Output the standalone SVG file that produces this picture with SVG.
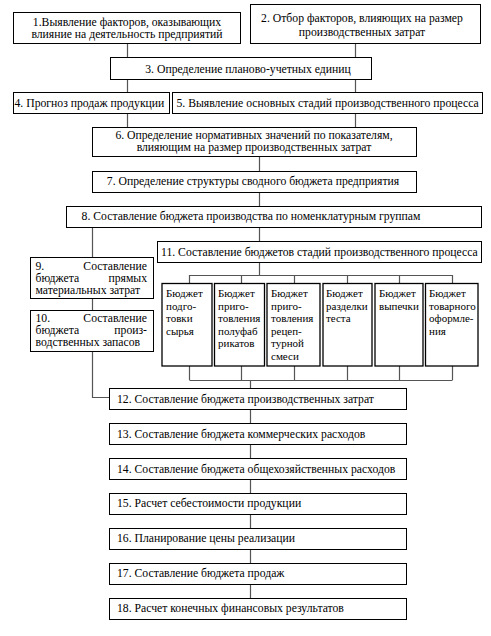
<svg xmlns="http://www.w3.org/2000/svg" width="491" height="636" viewBox="0 0 491 636">
<style>
.b{fill:#fff;stroke:#000;stroke-width:1}
.s{fill:#fff;stroke:#000;stroke-width:1.3}
text{font-family:'Liberation Serif','DejaVu Serif',serif;fill:#000}
.t{font-size:11.7px}
.c{text-anchor:middle}
.e{text-anchor:end}
.st{font-size:11px}
#connectors path{fill:none;stroke:#555;stroke-width:1.2}
</style>
<rect width="491" height="636" fill="#fff"/>
<g id="connectors">
<path d="M127.5,44V57M127.5,80V92M127.5,113V127"/>
<path d="M355.5,44V57M355.5,80V92M355.5,113V127"/>
<path d="M259.5,156V171M259.5,192V206M259.5,227V241M259.5,262V275"/>
<path d="M92.5,227V397.5H109"/>
<path d="M189.5,275.5H452.5M189.5,275V283M241.5,275V283M294.5,275V283M347.5,275V283M399.5,275V283M452.5,275V283"/>
<path d="M189.5,380.5H452.5M189.5,366V380M241.5,366V380M294.5,366V380M347.5,366V380M399.5,366V380M452.5,366V380"/>
<path d="M250.5,380V388M250.5,410V423M250.5,445V458M250.5,480V493M250.5,515V528M250.5,550V563M250.5,585V598"/>
</g>
<g id="n1"><rect class="b" x="13.5" y="12.5" width="227" height="31"/>
<text class="t c" x="127" y="26">1.Выявление факторов, оказывающих</text>
<text class="t c" x="127" y="38">влияние на деятельность предприятий</text></g>
<g id="n2"><rect class="b" x="250.5" y="4.5" width="230" height="39"/>
<text class="t c" x="362" y="22">2. Отбор факторов, влияющих на размер</text>
<text class="t c" x="362" y="36">производственных затрат</text></g>
<g id="n3"><rect class="b" x="110.5" y="57.5" width="261" height="22"/>
<text class="t c" x="248" y="73">3. Определение планово-учетных единиц</text></g>
<g id="n4"><rect class="b" x="13.5" y="92.5" width="156" height="21"/>
<text class="t" x="14.5" y="107">4. Прогноз продаж продукции</text></g>
<g id="n5"><rect class="b" x="172.5" y="92.5" width="310" height="21"/>
<text class="t" x="176.5" y="107">5. Выявление основных стадий производственного процесса</text></g>
<g id="n6"><rect class="b" x="92.5" y="127.5" width="324" height="29"/>
<text class="t c" x="254" y="138.5">6. Определение нормативных значений по показателям,</text>
<text class="t c" x="254" y="150.5">влияющим на размер производственных затрат</text></g>
<g id="n7"><rect class="b" x="92.5" y="171.5" width="324" height="21"/>
<text class="t c" x="253" y="185">7. Определение структуры сводного бюджета предприятия</text></g>
<g id="n8"><rect class="b" x="66.5" y="206.5" width="415" height="21"/>
<text class="t c" x="251" y="220">8. Составление бюджета производства по номенклатурным группам</text></g>
<g id="n9"><rect class="b" x="30.5" y="257.5" width="123" height="41"/>
<text class="t" x="35.5" y="270">9.</text><text class="t e" x="147" y="270">Составление</text>
<text class="t" x="35.5" y="282">бюджета</text><text class="t e" x="147" y="282">прямых</text>
<text class="t" x="35.5" y="294">материальных затрат</text></g>
<g id="n10"><rect class="b" x="30.5" y="310.5" width="123" height="41"/>
<text class="t" x="35.5" y="322">10.</text><text class="t e" x="147" y="322">Составление</text>
<text class="t" x="35.5" y="334">бюджета</text><text class="t e" x="147" y="334">произ-</text>
<text class="t" x="35.5" y="346">водственных запасов</text></g>
<g id="n11"><rect class="b" x="157.5" y="241.5" width="324" height="21"/>
<text class="t" x="161" y="256">11. Составление бюджетов стадий производственного процесса</text></g>
<g id="s1"><rect class="s" x="162" y="283.5" width="50" height="82.5"/>
<text class="st" x="166" y="297">Бюджет</text><text class="st" x="166" y="310">подго-</text><text class="st" x="166" y="322">товки</text><text class="st" x="166" y="335">сырья</text></g>
<g id="s2"><rect class="s" x="214.5" y="283.5" width="50" height="82.5"/>
<text class="st" x="218" y="297">Бюджет</text><text class="st" x="218" y="310">приго-</text><text class="st" x="218" y="322">товления</text><text class="st" x="218" y="335">полуфаб</text><text class="st" x="218" y="347">рикатов</text></g>
<g id="s3"><rect class="s" x="267" y="283.5" width="53" height="82.5"/>
<text class="st" x="271" y="297">Бюджет</text><text class="st" x="271" y="310">приго-</text><text class="st" x="271" y="322">товления</text><text class="st" x="271" y="335">рецеп-</text><text class="st" x="271" y="347">турной</text><text class="st" x="271" y="360">смеси</text></g>
<g id="s4"><rect class="s" x="323" y="283.5" width="49" height="82.5"/>
<text class="st" x="326" y="297">Бюджет</text><text class="st" x="326" y="310">разделки</text><text class="st" x="326" y="322">теста</text></g>
<g id="s5"><rect class="s" x="375" y="283.5" width="48" height="82.5"/>
<text class="st" x="379" y="297">Бюджет</text><text class="st" x="379" y="310">выпечки</text></g>
<g id="s6"><rect class="s" x="425.5" y="283.5" width="52.5" height="82.5"/>
<text class="st" x="429" y="297">Бюджет</text><text class="st" x="429" y="310">товарного</text><text class="st" x="429" y="322">оформле-</text><text class="st" x="429" y="335">ния</text></g>
<g id="n12"><rect class="b" x="109.5" y="388.5" width="297" height="21"/>
<text class="t" x="117" y="403">12. Составление бюджета производственных затрат</text></g>
<g id="n13"><rect class="b" x="109.5" y="423.5" width="297" height="21"/>
<text class="t" x="117" y="438">13. Составление бюджета коммерческих расходов</text></g>
<g id="n14"><rect class="b" x="109.5" y="458.5" width="297" height="21"/>
<text class="t" x="117" y="473">14. Составление бюджета общехозяйственных  расходов</text></g>
<g id="n15"><rect class="b" x="109.5" y="493.5" width="297" height="21"/>
<text class="t" x="117" y="507">15. Расчет себестоимости продукции</text></g>
<g id="n16"><rect class="b" x="109.5" y="528.5" width="297" height="21"/>
<text class="t" x="117" y="542">16. Планирование цены реализации</text></g>
<g id="n17"><rect class="b" x="109.5" y="563.5" width="297" height="21"/>
<text class="t" x="117" y="577">17. Составление бюджета продаж</text></g>
<g id="n18"><rect class="b" x="109.5" y="598.5" width="297" height="21"/>
<text class="t" x="117" y="612">18. Расчет конечных финансовых результатов</text></g>
</svg>
